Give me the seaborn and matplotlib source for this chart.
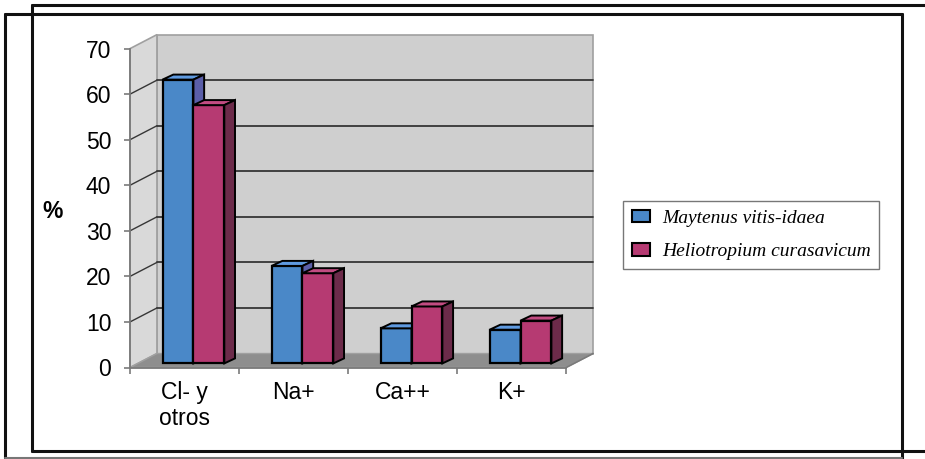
import numpy as np
import matplotlib.pyplot as plt
import seaborn as sns
import pandas as pd
from matplotlib.patches import Polygon, Rectangle
from matplotlib.lines import Line2D

# Datos
categorias = ["Cl- y\notros", "Na+", "Ca++", "K+"]
especies = ["Maytenus vitis-idaea", "Heliotropium curasavicum"]
maytenus = [62.3, 21.4, 7.7, 7.4]
heliotropium = [56.7, 19.8, 12.5, 9.4]
yticks = [0, 10, 20, 30, 40, 50, 60, 70]

df = pd.DataFrame({
    "ion": categorias * 2,
    "especie": [especies[0]] * len(categorias) + [especies[1]] * len(categorias),
    "valor": maytenus + heliotropium,
})

colores = ["#4a88c8", "#b63a72"]
colores_top = ["#5f9ae0", "#c24c82"]
colores_lado = ["#5a5ea8", "#6c2b4a"]

# Profundidad "3D" (en unidades de datos)
DX, DY = 0.247, 3.07      # pared
SX, SY = 0.082, 0.9       # desplazamiento de barras
BX, BY = 0.098, 1.1       # profundidad de barras

sns.set_style("white")
plt.rcParams['font.family'] = ['Liberation Sans', 'DejaVu Sans']
plt.rcParams['text.color'] = 'black'
plt.rcParams['xtick.labelcolor'] = 'black'
plt.rcParams['ytick.labelcolor'] = 'black'

W, H = 925, 459
fig = plt.figure(figsize=(W / 100, H / 100), dpi=100)


def fx(px):
    return px / W


def fy(py):
    return 1 - py / H


ax = fig.add_axes([fx(130), fy(367.5), (594.5 - 130) / W, (367.5 - 34.5) / H])
ax.set_facecolor("none")

sns.barplot(data=df, x="ion", y="valor", hue="especie", palette=colores,
            width=0.566, edgecolor="black", linewidth=1.6, saturation=1,
            ax=ax, legend=False)

ax.set_xlim(-0.5, 3.76)
ax.set_ylim(0, 73.1)

# paredes y suelo
gris_borde = "#a0a0a0"
ax.add_patch(Rectangle((-0.5 + DX, DY), 4, 70, facecolor="#cfcfcf",
                       edgecolor=gris_borde, lw=1.2, zorder=0, clip_on=False))
ax.add_patch(Polygon([(-0.5, 0), (-0.5, 70), (-0.5 + DX, 70 + DY), (-0.5 + DX, DY)],
                     closed=True, facecolor="#d9d9d9", edgecolor=gris_borde,
                     lw=1.2, zorder=0.5, clip_on=False))
ax.add_patch(Polygon([(-0.5, 0), (3.5, 0), (3.5 + DX, DY), (-0.5 + DX, DY)],
                     closed=True, facecolor="#8e8e8e", edgecolor=gris_borde,
                     lw=1.0, zorder=0.5, clip_on=False))
for v in yticks[1:-1]:
    ax.plot([-0.5 + DX, 3.5 + DX], [v + DY, v + DY], color="#363636", lw=1.3, zorder=0.6)
    ax.plot([-0.5, -0.5 + DX], [v, v + DY], color="#363636", lw=1.0, zorder=0.6)

# barras con caras superior y lateral
n = len(categorias)
barras = [q for q in ax.patches
          if isinstance(q, Rectangle) and abs(q.get_width() - 0.283) < 0.01]
for k, p in enumerate(barras):
    h_idx = 0 if k < n else 1
    z = 3 + h_idx
    x, w, h = p.get_x() + SX, p.get_width(), p.get_height()
    p.set_x(x)
    p.set_y(SY)
    p.set_zorder(z)
    top = [(x, h + SY), (x + BX, h + SY + BY), (x + w + BX, h + SY + BY), (x + w, h + SY)]
    lado = [(x + w, SY), (x + w + BX, SY + BY), (x + w + BX, h + SY + BY), (x + w, h + SY)]
    ax.add_patch(Polygon(top, closed=True, facecolor=colores_top[h_idx],
                         edgecolor="black", lw=1.4, zorder=z))
    ax.add_patch(Polygon(lado, closed=True, facecolor=colores_lado[h_idx],
                         edgecolor="black", lw=1.4, zorder=z))

# ejes
for s in ["top", "right"]:
    ax.spines[s].set_visible(False)
for s in ["left", "bottom"]:
    ax.spines[s].set_color("#7a7a7a")
    ax.spines[s].set_linewidth(1.3)
    ax.spines[s].set_zorder(1)
ax.spines["left"].set_bounds(0, 70)
ax.spines["bottom"].set_bounds(-0.5, 3.5)
ax.plot([3.5, 3.5 + DX], [0, DY], color="#7a7a7a", lw=1.2, zorder=0.7, clip_on=False)

ax.set_yticks(yticks)
ax.set_yticklabels([str(v) for v in yticks])
ax.set_xticks(range(n))
ax.set_xticklabels(categorias)
ax.set_xticks(np.arange(-0.5, n, 1.0), minor=True)
ax.tick_params(axis="y", length=4.5, width=1.2, color="#7a7a7a", pad=9,
               labelsize=16.5, left=True, labelcolor="black")
ax.tick_params(axis="x", which="major", length=0, pad=10, labelsize=16.5,
               labelcolor="black")
ax.tick_params(axis="x", which="minor", length=4, width=1.2, color="#7a7a7a", bottom=True)
for t in ax.get_xticklabels():
    t.set_linespacing(1.15)
ax.set_xlabel("")
ax.set_ylabel("")

fig.text(fx(53), fy(211), "%", fontsize=16.5, fontweight="bold", ha="center",
         va="center", color="black")

# leyenda
handles = [Rectangle((0, 0), 1, 1, facecolor=c, edgecolor="black", lw=1.5) for c in colores]
leg = fig.legend(handles, especies, loc="upper left",
                 bbox_to_anchor=(fx(623), fy(201)), borderaxespad=0,
                 prop={"family": "Liberation Serif", "style": "italic", "size": 14},
                 frameon=True, fancybox=False, edgecolor="#555555",
                 handlelength=0.95, handleheight=0.6, handletextpad=0.6,
                 borderpad=0.45, labelspacing=0.85, labelcolor="black")
leg.get_frame().set_linewidth(1.0)

# marcos
def linea(x0, y0, x1, y1, color="#111111", lw=2.2):
    fig.add_artist(Line2D([fx(x0), fx(x1)], [fy(y0), fy(y1)], color=color, lw=lw))

linea(32, 4.7, 925, 4.7)
linea(32, 4.7, 32, 450.7)
linea(32, 450.7, 925, 450.7)
linea(4.5, 13.5, 902, 13.5)
linea(4.5, 13.5, 4.5, 457.5)
linea(902, 13.5, 902, 459)
linea(4.5, 457.5, 902, 457.5, color="#777777", lw=1.5)

fig.savefig("out.png", dpi=100)
